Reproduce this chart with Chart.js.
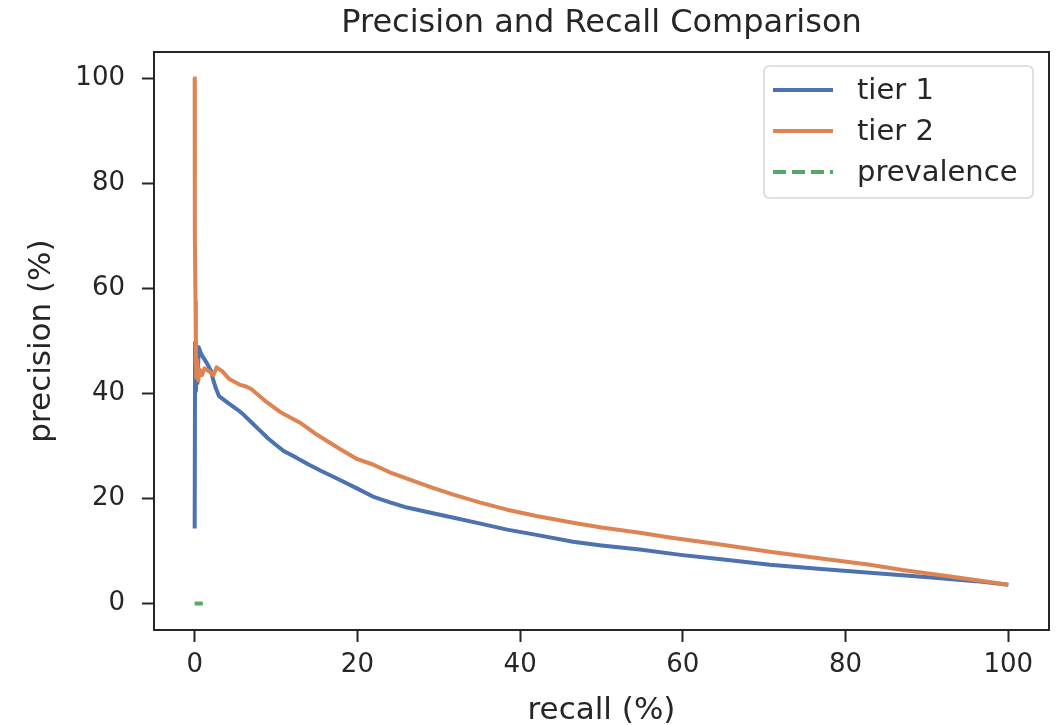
<!DOCTYPE html>
<html><head><meta charset="utf-8">
<script src="https://cdn.jsdelivr.net/npm/chart.js@4.4.0/dist/chart.umd.min.js"></script>
<style>html,body{margin:0;padding:0;background:#fff}#wrap{width:1059px;height:725px}</style>
</head><body><div id="wrap"><canvas id="c" width="1059" height="725"></canvas></div>
<script>
const chartTitle = 'Precision and Recall Comparison';
const xAxisTitle = 'recall (%)';
const yAxisTitle = 'precision (%)';
const seriesNames = ['tier 1', 'tier 2', 'prevalence'];
const xTicks = [0, 20, 40, 60, 80, 100];
const yTicks = [0, 20, 40, 60, 80, 100];

const tier1Recall = [0, 0.05, 0.15, 0.25, 0.35, 0.5, 0.8, 1.2, 1.6, 2.0, 2.3, 2.6, 3.0, 3.6, 4.3, 5.2, 6.0, 7.0, 8.0, 9.0, 10.0, 11.0, 12.5, 14, 15.5, 17.8, 20, 21.9, 24, 26.1, 29, 31.7, 35, 38.4, 42, 46.5, 50, 54.7, 59.7, 65, 70.7, 77, 83, 87, 91.3, 96, 100];
const tier1Precision = [14.3, 49.7, 40.5, 46, 42, 48.8, 47.5, 46.5, 45.5, 44.3, 42.5, 41, 39.5, 38.8, 38, 37, 36, 34.5, 33, 31.5, 30.2, 29, 27.8, 26.5, 25.3, 23.6, 21.9, 20.4, 19.3, 18.3, 17.3, 16.4, 15.3, 14.1, 13.1, 11.8, 11.1, 10.3, 9.3, 8.4, 7.4, 6.6, 5.9, 5.4, 4.9, 4.3, 3.6];

const tier2Recall = [0, 0.02, 0.1, 0.15, 0.2, 0.3, 0.45, 0.6, 0.9, 1.2, 1.8, 2.3, 2.7, 3.4, 4.3, 5.5, 6.4, 7.0, 7.6, 8.9, 10.5, 12.9, 15, 17.8, 20, 21.9, 24, 26.1, 29, 31.7, 35, 38.4, 42, 46.5, 50, 54.7, 58.4, 64, 70.7, 77, 83, 87, 91.3, 96, 100];
const tier2Precision = [100, 70, 57.5, 48, 43, 46.5, 42.5, 44.6, 43.5, 44.8, 44.2, 43.5, 45, 44.2, 42.7, 41.7, 41.3, 40.8, 40, 38.3, 36.5, 34.5, 32.2, 29.5, 27.5, 26.5, 25, 23.8, 22.2, 20.8, 19.3, 17.9, 16.7, 15.4, 14.5, 13.5, 12.6, 11.4, 9.9, 8.6, 7.4, 6.4, 5.5, 4.5, 3.6];

const prevalenceRecall = [0, 1];
const prevalencePrecision = [0.037, 0.037];

const colors = ['#4C72B0', '#DD8452', '#55A868'];
const ink = '#262626';
const FONT = '"DejaVu Sans", sans-serif';

function pts(xs, ys) { return xs.map((x, i) => ({ x: x, y: ys[i] })); }

const decor = {
  id: 'decor',
  afterDraw(chart) {
    const ctx = chart.ctx, a = chart.chartArea;
    ctx.save();
    ctx.strokeStyle = ink; ctx.lineWidth = 2;
    ctx.strokeRect(a.left, a.top, a.right - a.left, a.bottom - a.top);
    ctx.fillStyle = ink;
    ctx.font = '32px ' + FONT;
    ctx.textAlign = 'center'; ctx.textBaseline = 'middle';
    ctx.fillText(chartTitle, (a.left + a.right) / 2, 24);
    const bx = 764, by = 66, bw = 269, bh = 132, r = 6;
    ctx.beginPath();
    ctx.moveTo(bx + r, by); ctx.lineTo(bx + bw - r, by); ctx.quadraticCurveTo(bx + bw, by, bx + bw, by + r);
    ctx.lineTo(bx + bw, by + bh - r); ctx.quadraticCurveTo(bx + bw, by + bh, bx + bw - r, by + bh);
    ctx.lineTo(bx + r, by + bh); ctx.quadraticCurveTo(bx, by + bh, bx, by + bh - r);
    ctx.lineTo(bx, by + r); ctx.quadraticCurveTo(bx, by, bx + r, by);
    ctx.closePath();
    ctx.fillStyle = 'rgba(255,255,255,0.85)'; ctx.fill();
    ctx.strokeStyle = '#d6d6d6'; ctx.lineWidth = 1.5; ctx.stroke();
    chart.data.datasets.forEach((ds, i) => {
      const y = 90 + i * 41;
      ctx.beginPath();
      ctx.strokeStyle = ds.borderColor; ctx.lineWidth = ds.borderWidth;
      ctx.setLineDash(ds.borderDash || []);
      ctx.moveTo(773, y); ctx.lineTo(833, y); ctx.stroke();
      ctx.setLineDash([]);
      ctx.fillStyle = ink; ctx.font = '29px ' + FONT;
      ctx.textAlign = 'left'; ctx.textBaseline = 'middle';
      ctx.fillText(ds.label, 857, y + 1);
    });
    ctx.restore();
  }
};

const axisCommon = (ticksArr) => ({
  type: 'linear', min: -5, max: 105,
  afterBuildTicks: s => { s.ticks = ticksArr.map(v => ({ value: v })); },
  grid: { drawOnChartArea: false, drawTicks: true, tickLength: 12, tickWidth: 2, tickColor: ink, color: ink },
  border: { display: true, color: ink, width: 2 },
});

new Chart(document.getElementById('c'), {
  type: 'scatter',
  data: {
    datasets: [
      { label: seriesNames[0], data: pts(tier1Recall, tier1Precision), borderColor: colors[0], backgroundColor: colors[0], borderWidth: 4, showLine: true, pointRadius: 0, order: 2, borderJoinStyle: 'round' },
      { label: seriesNames[1], data: pts(tier2Recall, tier2Precision), borderColor: colors[1], backgroundColor: colors[1], borderWidth: 4, showLine: true, pointRadius: 0, order: 1, borderJoinStyle: 'round' },
      { label: seriesNames[2], data: pts(prevalenceRecall, prevalencePrecision), borderColor: colors[2], backgroundColor: colors[2], borderWidth: 4, borderDash: [13, 6], showLine: true, pointRadius: 0, order: 0 }
    ]
  },
  options: {
    responsive: false, animation: false, devicePixelRatio: 1,
    layout: { padding: { top: 52, right: 10, bottom: 0, left: 0 } },
    plugins: { legend: { display: false }, title: { display: false }, tooltip: { enabled: false } },
    scales: {
      x: Object.assign(axisCommon(xTicks), {
        position: 'bottom',
        afterFit: s => { s.height = 95; },
        ticks: { color: ink, font: { family: FONT, size: 26 }, padding: 8, maxRotation: 0, autoSkip: false },
        title: { display: true, text: xAxisTitle, color: ink, font: { family: FONT, size: 31, lineHeight: 0.9 }, padding: { top: 0, bottom: 0 } }
      }),
      y: Object.assign(axisCommon(yTicks), {
        position: 'left',
        afterFit: s => { s.width = 154; },
        ticks: { color: ink, font: { family: FONT, size: 26 }, padding: 17, autoSkip: false },
        title: { display: true, text: yAxisTitle, color: ink, font: { family: FONT, size: 31, lineHeight: 1 }, padding: { top: 26, bottom: 0 } }
      })
    }
  },
  plugins: [decor]
});
</script></body></html>
